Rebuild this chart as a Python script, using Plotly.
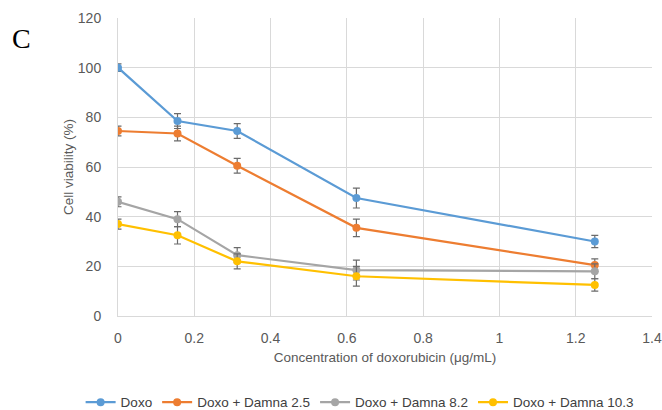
import plotly.graph_objects as go

conc = [0, 0.156, 0.3125, 0.625, 1.25]
series_names = ["Doxo", "Doxo + Damna 2.5", "Doxo + Damna 8.2", "Doxo + Damna 10.3"]
doxo = [100, 78.5, 74.5, 47.5, 30]
damna25 = [74.5, 73.5, 60.5, 35.5, 20.5]
damna82 = [46, 39, 24.5, 18.5, 18]
damna103 = [37, 32.5, 22, 16, 12.5]
err_doxo = [1.5, 3, 3, 4, 2.5]
err_25 = [2, 3, 3, 3.5, 2.5]
err_82 = [2, 3, 3, 4, 3]
err_103 = [2, 3.5, 3, 4, 2.5]

colors = ["#5B9BD5", "#ED7D31", "#A5A5A5", "#FFC000"]
values = [doxo, damna25, damna82, damna103]
errors = [err_doxo, err_25, err_82, err_103]

fig = go.Figure()
for name, v, e, c in zip(series_names, values, errors, colors):
    fig.add_trace(go.Scatter(
        x=conc, y=v, name=name, mode="lines+markers",
        line=dict(color=c, width=2.2),
        marker=dict(color=c, size=8),
        error_y=dict(type="data", array=e, visible=True, color="#6B6B6B", thickness=1.2, width=3.5),
    ))

tick_font = dict(family="Liberation Sans, Arial, sans-serif", size=14, color="#595959")
title_font = dict(family="Liberation Sans, Arial, sans-serif", size=13.5, color="#595959")
fig.update_layout(
    width=662, height=410,
    margin=dict(l=118, r=10, t=18, b=94, autoexpand=False),
    paper_bgcolor="white", plot_bgcolor="white",
    font=tick_font,
    showlegend=True,
    legend=dict(orientation="h", x=-0.07, xanchor="left",
                y=-0.29, yanchor="middle",
                font=dict(family="Liberation Sans, Arial, sans-serif", size=13.5, color="#404040"),
                tracegroupgap=0),
    annotations=[dict(text="C", xref="paper", yref="paper", x=-0.18, y=0.93,
                      xanchor="center", yanchor="middle", showarrow=False,
                      font=dict(family="Liberation Serif, Times New Roman, serif", size=28, color="black"))],
)
fig.update_xaxes(range=[0, 1.4], dtick=0.2, showgrid=True, gridcolor="#D9D9D9", gridwidth=1,
                 zeroline=False, showline=True, linecolor="#D9D9D9",
                 ticks="outside", ticklen=9, tickcolor="rgba(0,0,0,0)", tickfont=tick_font,
                 title=dict(text="Concentration of doxorubicin (μg/mL)", font=title_font, standoff=7),
                 mirror=False, automargin=False)
fig.update_yaxes(range=[0, 120], dtick=20, showgrid=True, gridcolor="#D9D9D9", gridwidth=1,
                 zeroline=False, showline=True, linecolor="#D9D9D9",
                 ticks="outside", ticklen=13, tickcolor="rgba(0,0,0,0)", tickfont=tick_font,
                 title=dict(text="Cell viability (%)", font=title_font, standoff=1), automargin=False)

fig.write_html("out.html")
